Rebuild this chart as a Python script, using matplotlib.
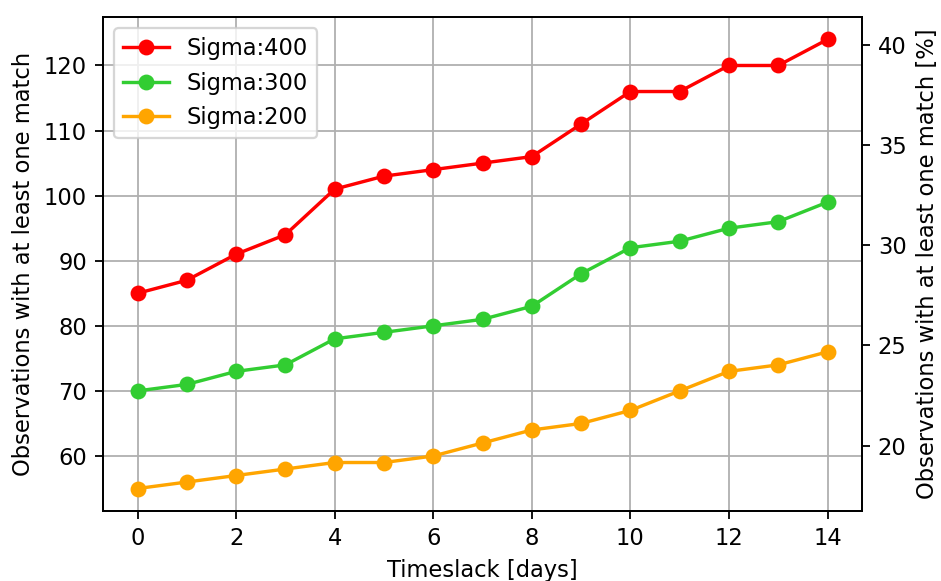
import numpy as np
import matplotlib
matplotlib.use("Agg")
import matplotlib.pyplot as plt

timeslack = list(range(15))
sigma400 = [85, 87, 91, 94, 101, 103, 104, 105, 106, 111, 116, 116, 120, 120, 124]
sigma300 = [70, 71, 73, 74, 78, 79, 80, 81, 83, 88, 92, 93, 95, 96, 99]
sigma200 = [55, 56, 57, 58, 59, 59, 60, 62, 64, 65, 67, 70, 73, 74, 76]
n_total = 308

dpi = 163
fig, ax = plt.subplots(figsize=(941 / dpi, 581 / dpi), dpi=dpi)
fig.subplots_adjust(left=103 / 941, right=862 / 941, top=1 - 17 / 581, bottom=1 - 511 / 581)

ax.plot(timeslack, sigma400, "o-", color="red", label="Sigma:400")
ax.plot(timeslack, sigma300, "o-", color="limegreen", label="Sigma:300")
ax.plot(timeslack, sigma200, "o-", color="orange", label="Sigma:200")

ax.set_xlabel("Timeslack [days]")
ax.set_ylabel("Observations with at least one match")
ax.grid(True)
ax.legend(loc="upper left")

# percentage of all observations on the right-hand axis
ax2 = ax.twinx()
ax2.set_ylim(np.array(ax.get_ylim()) / n_total * 100)
ax2.set_ylabel("Observations with at least one match [%]")

fig.savefig("out.png", dpi=dpi)
